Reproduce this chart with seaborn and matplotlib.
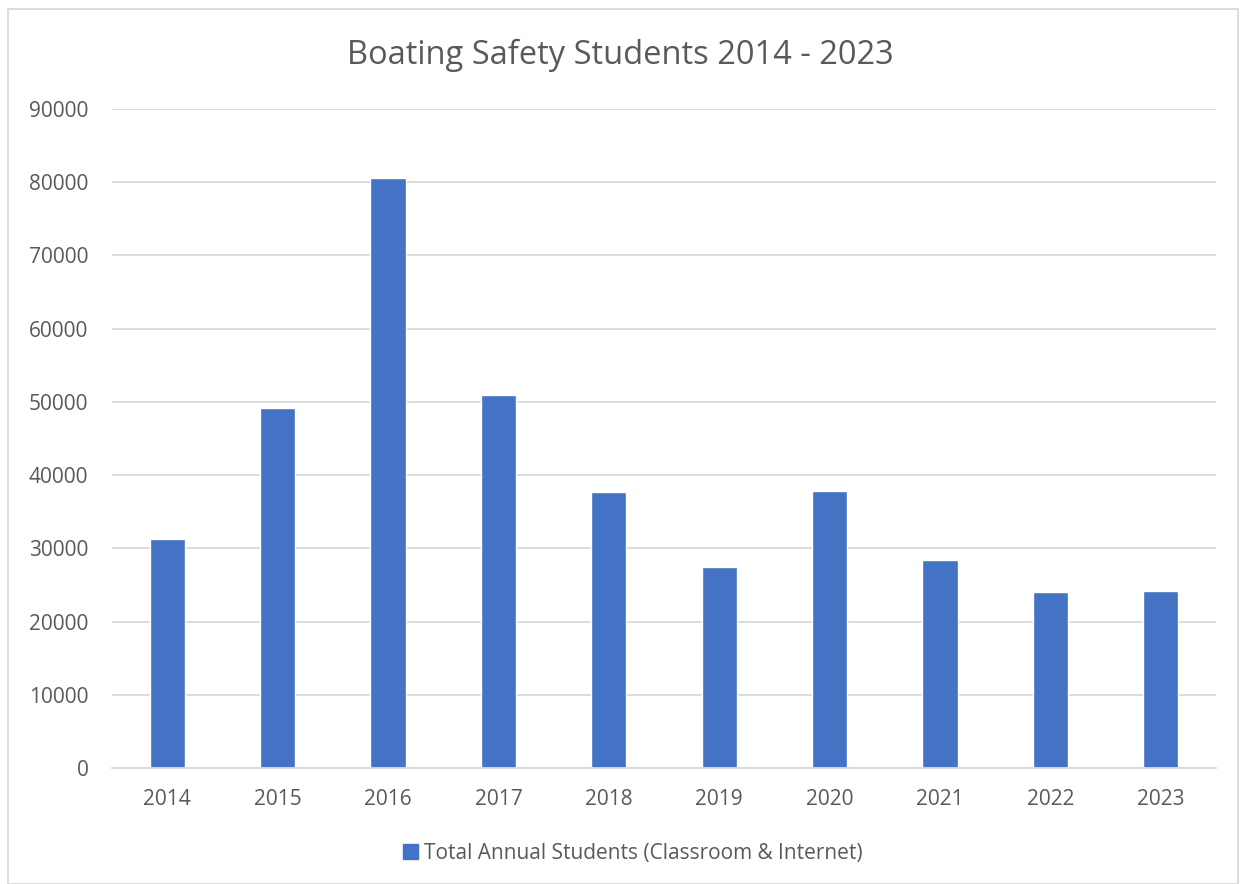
import matplotlib
matplotlib.use("Agg")
import matplotlib.pyplot as plt
import pandas as pd
import seaborn as sns
from matplotlib.patches import Rectangle

years = ["2014", "2015", "2016", "2017", "2018", "2019", "2020", "2021", "2022", "2023"]
students = [31230, 49180, 80550, 50910, 37640, 27500, 37860, 28360, 24000, 24130]
series_name = "Total Annual Students (Classroom & Internet)"

df = pd.DataFrame({"Year": years, "Students": students, "Series": series_name})

sns.set_style("white")
plt.rcParams["font.family"] = ["Open Sans", "DejaVu Sans"]

text_color = "#595959"
grid_color = "#d9d9d9"
bar_color = "#4472C4"

fig = plt.figure(figsize=(12.4, 8.84), dpi=100)
ax = fig.add_axes([112 / 1240, 1 - 768 / 884, (1216 - 112) / 1240, (768 - 109) / 884])

sns.barplot(data=df, x="Year", y="Students", hue="Series", palette=[bar_color],
            width=0.32, saturation=1, ax=ax, legend=False)

ax.set_ylim(0, 90000)
ax.set_yticks(range(0, 90001, 10000))
ax.set_xlim(-0.5, len(years) - 0.5)
ax.yaxis.grid(True, color=grid_color, linewidth=1.3)
ax.set_axisbelow(True)
for side in ["top", "right", "left"]:
    ax.spines[side].set_visible(False)
ax.spines["bottom"].set_color(grid_color)
ax.spines["bottom"].set_linewidth(1.3)
ax.tick_params(axis="both", length=0, labelsize=15, colors=text_color)
ax.tick_params(axis="x", pad=15)
ax.tick_params(axis="y", pad=17)
ax.set_xlabel("")
ax.set_ylabel("")

fig.text(0.5, 1 - 55 / 884, "Boating Safety Students 2014 - 2023", ha="center", va="center",
         fontsize=23.5, color=text_color)

handle = Rectangle((0, 0), 1, 1, color=bar_color)
fig.legend([handle], [series_name], loc="center", bbox_to_anchor=(633 / 1240, 1 - 853 / 884),
           frameon=False, fontsize=15, labelcolor=text_color, handlelength=0.7,
           handleheight=0.7, handletextpad=0.3)

fig.patches.append(Rectangle((8 / 1240, 0), 1230 / 1240, 1 - 9 / 884, transform=fig.transFigure,
                             fill=False, edgecolor=grid_color, linewidth=1.3))

fig.savefig("out.png", dpi=100, facecolor="white")
